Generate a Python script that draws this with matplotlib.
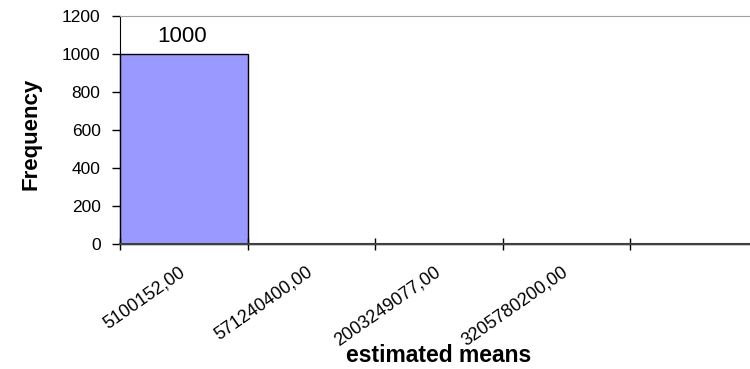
import matplotlib
matplotlib.use("Agg")
import matplotlib.pyplot as plt
import matplotlib.transforms as mtransforms
import numpy as np

plt.rcParams['font.family'] = ['Liberation Sans', 'DejaVu Sans']

# histogram of estimated means
bin_labels = ['5100152,00', '571240400,00', '2003249077,00', '3205780200,00', '']
counts = [1000, 0, 0, 0, 0]

fig = plt.figure(figsize=(7.5, 3.69), dpi=100)
ax = fig.add_axes([120 / 750, 1 - 244 / 369, 637.5 / 750, (244 - 16) / 369])

edges = np.arange(len(counts) + 1)
centers = edges[:-1] + 0.5
ax.bar(edges[:-1], counts, width=1.0, align='edge', color='#9999ff',
       edgecolor='black', linewidth=1.0, clip_on=False)
ax.annotate(str(counts[0]), (centers[0], counts[0]), xytext=(-1, 9),
            textcoords='offset points', ha='center', va='baseline', fontsize=16)

ax.set_xlim(0, len(counts))
ax.set_ylim(0, 1200)
ax.set_yticks(np.arange(0, 1201, 200))
ax.tick_params(axis='y', direction='out', length=6, width=1, labelsize=12.5, pad=8)

# bin boundaries carry the tick marks, labels sit under bin centres
ax.set_xticks(edges, minor=True)
ax.set_xticks(centers)
ax.set_xticklabels(bin_labels, rotation=35, ha='right', va='top',
                   rotation_mode='anchor', fontsize=13)
ax.tick_params(axis='x', which='major', length=0, pad=14)
ax.tick_params(axis='x', which='minor', direction='inout', length=8, width=1)
shift = mtransforms.ScaledTranslation(-5 / 100, 0, fig.dpi_scale_trans)
for lbl in ax.get_xticklabels():
    lbl.set_transform(lbl.get_transform() + shift)

ax.spines['right'].set_visible(False)
ax.spines['top'].set_color('#a0a0a0')
ax.spines['left'].set_color('black')
ax.spines['bottom'].set_color('#404040')
ax.spines['bottom'].set_linewidth(1.5)

fig.text(31 / 750, 1 - 134 / 369, 'Frequency', rotation=90, ha='center', va='center',
         fontsize=16, fontweight='bold')
ax.set_xlabel('estimated means', fontsize=16.5, fontweight='bold')
ax.xaxis.set_label_coords(0.5, (244 - 362) / 228)
ax.xaxis.label.set_va('baseline')

fig.savefig('out.png', dpi=100)
